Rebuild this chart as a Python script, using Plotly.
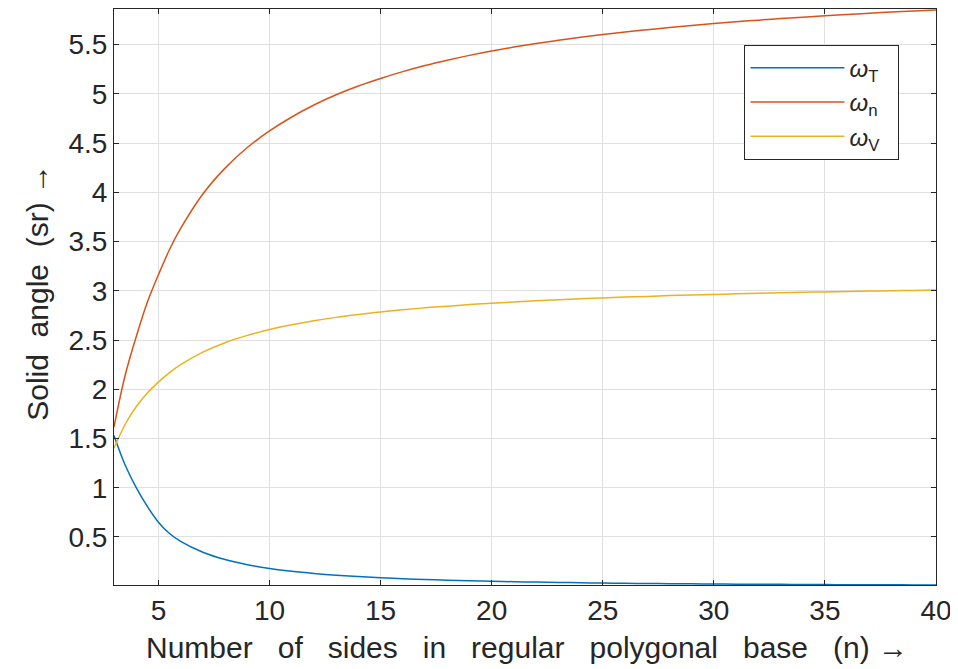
import plotly.graph_objects as go

n_sides = [3, 3.5, 4, 4.5, 5, 5.5, 6, 7, 8, 9, 10, 11, 12, 13, 14, 15, 16, 17, 18, 19, 20,
           21, 22, 23, 24, 25, 26, 27, 28, 29, 30, 31, 32, 33, 34, 35, 36, 37, 38, 39, 40]

omega_T = [1.530, 1.230, 1.000, 0.810, 0.650, 0.535, 0.455, 0.3449, 0.2703, 0.2179, 0.180,
           0.1512, 0.1292, 0.1115, 0.0974, 0.0858, 0.0760, 0.0678, 0.0610, 0.0551, 0.0500,
           0.0454, 0.0413, 0.0378, 0.0347, 0.0320, 0.0296, 0.0274, 0.0255, 0.0238, 0.0222,
           0.0208, 0.0195, 0.0184, 0.0173, 0.0163, 0.0154, 0.0146, 0.0139, 0.0131, 0.0125]

omega_n = [1.617, 2.140, 2.533, 2.883, 3.163, 3.419, 3.633, 3.983, 4.246, 4.455, 4.623,
           4.765, 4.887, 4.991, 5.080, 5.157, 5.226, 5.288, 5.342, 5.391, 5.435,
           5.475, 5.511, 5.544, 5.574, 5.602, 5.628, 5.652, 5.674, 5.695, 5.714,
           5.732, 5.749, 5.765, 5.779, 5.793, 5.807, 5.819, 5.831, 5.842, 5.853]

omega_V = [1.402, 1.642, 1.822, 1.962, 2.072, 2.169, 2.250, 2.377, 2.473, 2.547, 2.607,
           2.655, 2.696, 2.730, 2.759, 2.785, 2.807, 2.827, 2.844, 2.860, 2.874,
           2.887, 2.898, 2.909, 2.919, 2.928, 2.936, 2.943, 2.951, 2.957, 2.963,
           2.969, 2.974, 2.979, 2.984, 2.989, 2.993, 2.997, 3.001, 3.004, 3.008]

series_names = ["<i>ω</i><sub>T</sub>\u00a0\u00a0", "<i>ω</i><sub>n</sub>\u00a0\u00a0", "<i>ω</i><sub>V</sub>\u00a0\u00a0"]
series_colors = ["#0072BD", "#D95319", "#EDB120"]

x_tickvals = [5, 10, 15, 20, 25, 30, 35, 40]
x_ticktext = ["5", "10", "15", "20", "25", "30", "35", "40"]
y_tickvals = [0.5, 1, 1.5, 2, 2.5, 3, 3.5, 4, 4.5, 5, 5.5]
y_ticktext = ["0.5", "1", "1.5", "2", "2.5", "3", "3.5", "4", "4.5", "5", "5.5"]

x_title = "Number\u00a0\u00a0\u00a0of\u00a0\u00a0\u00a0sides\u00a0\u00a0\u00a0in\u00a0\u00a0\u00a0regular\u00a0\u00a0\u00a0polygonal\u00a0\u00a0\u00a0base\u00a0\u00a0\u00a0(n)\u00a0→"
y_title = "Solid\u00a0\u00a0angle\u00a0\u00a0(sr)\u00a0→"

FONT = "Liberation Sans, Arial, Helvetica, sans-serif"
AX = "#262626"

fig = go.Figure()
for ys, name, col in zip([omega_T, omega_n, omega_V], series_names, series_colors):
    fig.add_trace(go.Scatter(x=n_sides, y=ys, mode="lines", name=name,
                             line=dict(color=col, width=1.5, shape="spline", smoothing=1.0)))

# page body has an 8px default margin, so the figure is sized 8px smaller
fig.update_layout(
    width=950, height=661,
    margin=dict(l=106, r=22, t=1, b=84, autoexpand=False),
    paper_bgcolor="white", plot_bgcolor="white",
    font=dict(family=FONT, color=AX),
    showlegend=True,
    legend=dict(x=0.767, y=0.938, xanchor="left", yanchor="top",
                bgcolor="white", bordercolor=AX, borderwidth=1,
                font=dict(size=24, family=FONT, color=AX),
                itemwidth=94, tracegroupgap=0),
    annotations=[
        dict(text=x_title, xref="paper", yref="paper", x=0.502, y=-0.109,
             xanchor="center", yanchor="middle", showarrow=False,
             font=dict(size=30, family=FONT, color=AX)),
        dict(text=y_title, xref="paper", yref="paper", x=-0.0925, y=0.509,
             xanchor="center", yanchor="middle", showarrow=False, textangle=-90,
             font=dict(size=30, family=FONT, color=AX)),
    ],
)
fig.update_xaxes(
    range=[3, 40], tickvals=x_tickvals, ticktext=x_ticktext,
    showgrid=True, gridcolor="#e0e0e0", gridwidth=1,
    showline=True, linecolor=AX, linewidth=1, mirror="ticks",
    ticks="inside", ticklen=5, tickcolor=AX,
    tickfont=dict(size=28, family=FONT, color=AX),
    zeroline=False, automargin=False,
)
fig.update_yaxes(
    range=[0.012, 5.862], tickvals=y_tickvals, ticktext=y_ticktext,
    showgrid=True, gridcolor="#e0e0e0", gridwidth=1,
    showline=True, linecolor=AX, linewidth=1, mirror="ticks",
    ticks="inside", ticklen=5, tickcolor=AX,
    tickfont=dict(size=28, family=FONT, color=AX),
    zeroline=False, automargin=False,
)

fig.write_html("out.html")
